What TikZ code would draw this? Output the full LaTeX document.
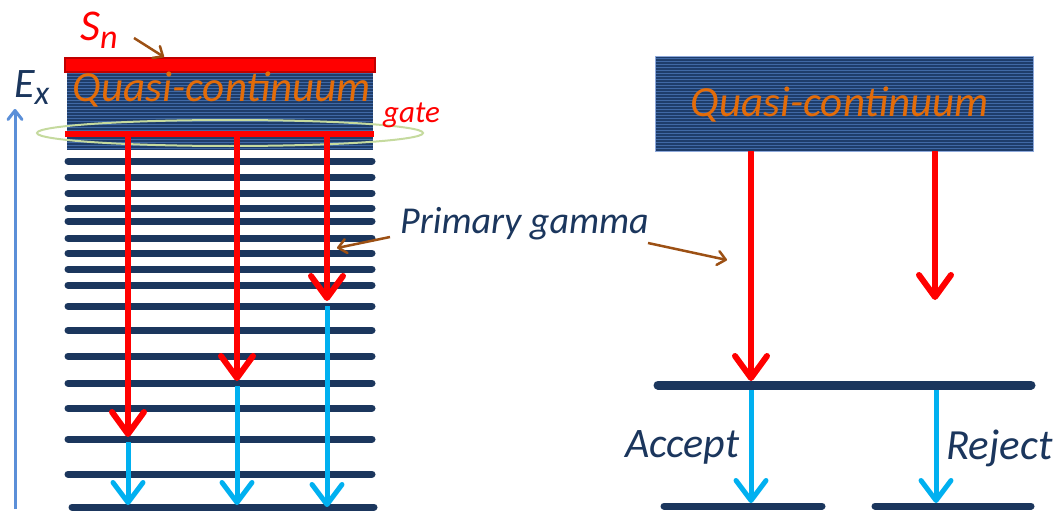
\documentclass[tikz,border=0pt]{standalone}
\usepackage{fontspec}
\setmainfont{Carlito}
\usetikzlibrary{arrows.meta}
\definecolor{navy}{HTML}{1B365D}
\definecolor{boxbg}{HTML}{1E3D6B}
\definecolor{stripe}{HTML}{4069A6}
\definecolor{boxedge}{HTML}{8EA9DB}
\definecolor{gred}{HTML}{FF0000}
\definecolor{dred}{HTML}{C00000}
\definecolor{gcyan}{HTML}{00B0F0}
\definecolor{gbrown}{HTML}{9C5014}
\definecolor{gorange}{HTML}{E36C09}
\definecolor{exblue}{HTML}{5B8FD8}
\definecolor{gatecol}{HTML}{C5DA9E}
\tikzset{
  level/.style={draw=navy, line width=7, line cap=round},
  redarrow/.style={draw=gred, line width=6, -{Straight Barb[round,length=22,width=32]}},
  cyanarrow/.style={draw=gcyan, line width=5, -{Straight Barb[round,length=20,width=30]}},
  redline/.style={draw=gred, line width=6},
  brownarrow/.style={draw=gbrown, line width=2.5, -{Straight Barb[round,length=8,width=14]}},
  lbl/.style={inner sep=0, font=\itshape\fontsize{38}{40}\selectfont},
}
\begin{document}
\begin{tikzpicture}[x=1pt,y=-1pt]
\useasboundingbox (0,0) rectangle (1058,511);
% ---------- left: quasi-continuum box ----------
\fill[boxbg] (67,72) rectangle (373,150);
\foreach \y in {73.5,76.5,...,150} \draw[stripe, line width=1] (67,\y) -- (373,\y);
% S_n band
\draw[fill=gred, draw=dred, line width=1.5] (65,58) rectangle (375,72);
% discrete levels
\foreach \y in {161,177,193,208,221,238,253,269,285,306,330,356,383,408,439,474}
  \draw[level] (68,\y) -- (372,\y);
\draw[level] (72,507) -- (374,507);
% gate ellipse
\draw[gatecol, line width=2] (230,133) ellipse [x radius=193, y radius=13];
% coordinates
\coordinate (gL) at (65,134);
\coordinate (gR) at (374,134);
\coordinate (a1) at (128,134);
\coordinate (a2) at (237,134);
\coordinate (a3) at (327,134);
\coordinate (t1) at (128,437);
\coordinate (t2) at (237,381);
\coordinate (t3) at (327,301);
\coordinate (c1) at (128,442);
\coordinate (c2) at (237,386);
\coordinate (c3) at (327,306);
\coordinate (b1) at (128,505);
\coordinate (b2) at (237,505);
\coordinate (b3) at (327,507);
\draw[redline] (gL) -- (gR);
\draw[redarrow] (a1) -- (t1);
\draw[redarrow] (a2) -- (t2);
\draw[redarrow] (a3) -- (t3);
\draw[cyanarrow] (c1) -- (b1);
\draw[cyanarrow] (c2) -- (b2);
\draw[cyanarrow] (c3) -- (b3);
% E_x axis
\coordinate (ex0) at (15,509);
\coordinate (ex1) at (15,109);
\draw[exblue, line width=3, -{Straight Barb[round,length=9,width=14]}] (ex0) -- (ex1);
\node[lbl, anchor=base west, text=navy, font=\itshape\fontsize{42}{44}\selectfont] (ex) at (14,97) {E\textsubscript{\fontsize{34}{34}\selectfont x}};
% labels left
\node[lbl, anchor=base, text=gorange, font=\itshape\fontsize{43}{45}\selectfont] (qcL) at (222,102) {Quasi-continuum};
\node[lbl, anchor=base west, text=gred, font=\itshape\fontsize{44}{46}\selectfont] (sn) at (80,41) {S\textsubscript{\fontsize{34}{34}\selectfont n}};
\coordinate (snA) at (134,38);
\coordinate (snB) at (164,57);
\draw[brownarrow] (snA) -- (snB);
\node[lbl, anchor=base west, text=gred, font=\itshape\fontsize{31}{33}\selectfont] (gate) at (383,122) {gate};
% primary gamma
\node[lbl, anchor=base west, text=navy] (pg) at (400,233) {Primary gamma};
\coordinate (pgA) at (390,237);
\coordinate (pgB) at (337,248);
\coordinate (pgC) at (648,243);
\coordinate (pgD) at (727,260);
\draw[brownarrow] (pgA) -- (pgB);
\draw[brownarrow] (pgC) -- (pgD);
% ---------- right ----------
\fill[boxbg] (655,57) rectangle (1033,151);
\foreach \y in {58.5,61.5,...,151} \draw[stripe, line width=1] (655,\y) -- (1033,\y);
\draw[boxedge, line width=1] (655,57) rectangle (1033,151);
\node[lbl, anchor=base, text=gorange, font=\itshape\fontsize{43}{45}\selectfont] (qcR) at (840,117) {Quasi-continuum};
\coordinate (rA) at (751,151);
\coordinate (rAt) at (751,381);
\coordinate (rB) at (935,151);
\coordinate (rBt) at (935,300);
\draw[redarrow] (rA) -- (rAt);
\draw[redarrow] (rB) -- (rBt);
\draw[draw=navy, line width=9, line cap=round] (658,385) -- (1031,385);
\draw[level] (664,506) -- (822,506);
\draw[level] (875,506) -- (1031,506);
\coordinate (cA) at (751,390);
\coordinate (cAt) at (751,503);
\coordinate (cB) at (936,390);
\coordinate (cBt) at (936,503);
\draw[cyanarrow] (cA) -- (cAt);
\draw[cyanarrow] (cB) -- (cBt);
\node[lbl, anchor=base west, text=navy, font=\itshape\fontsize{42}{44}\selectfont] (acc) at (625,457) {Accept};
\node[lbl, anchor=base west, text=navy, font=\itshape\fontsize{43}{45}\selectfont] (rej) at (946,459) {Reject};
\end{tikzpicture}
\end{document}
